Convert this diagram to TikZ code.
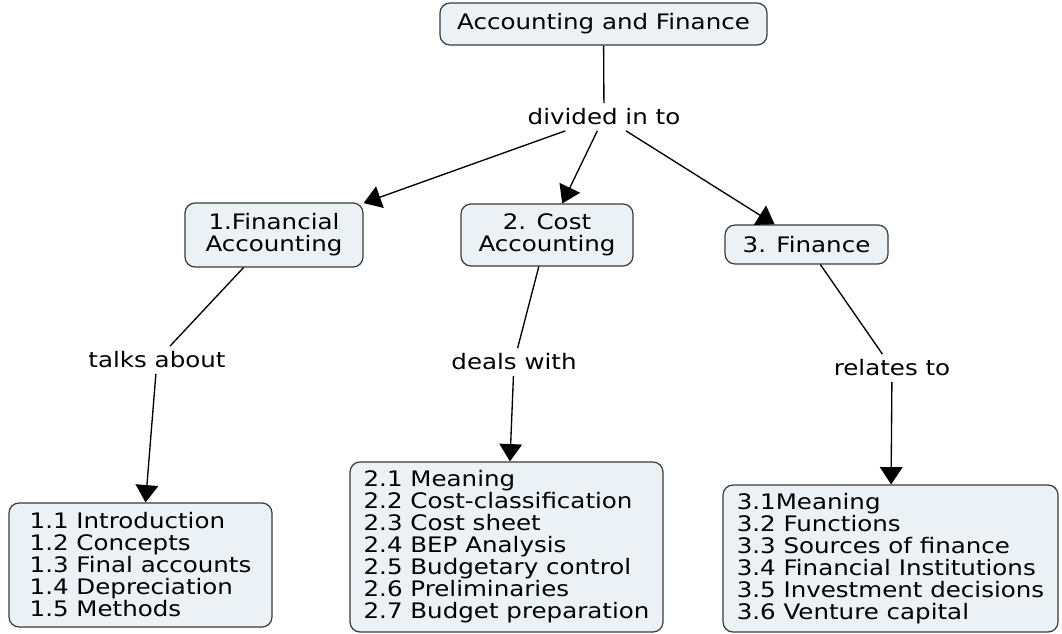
\documentclass[tikz,border=0pt]{standalone}
\usepackage{fontspec}
\setmainfont[FakeStretch=1.15]{DejaVu Sans}
\usetikzlibrary{arrows.meta}
\definecolor{boxfill}{HTML}{EBF1F4}
\definecolor{boxline}{HTML}{3A3A3A}

\begin{document}
\begin{tikzpicture}[x=0.75pt,y=-0.75pt,
    font=\fontsize{16}{16.5}\selectfont,
    box/.style={draw=boxline,fill=boxfill,rounded corners=7.5pt,line width=0.9pt,align=center,inner sep=0pt},
    lst/.style={box,align=left},
    link/.style={inner sep=4pt},
    con/.style={line width=1pt},
    arr/.style={con,-{Triangle[width=17pt,length=13pt]}}]
        \useasboundingbox (0,0) rectangle (1062,634);
        % concepts
        \node[box,minimum width=245.25pt,minimum height=31.5pt] (acc) at (603.5,24) {Accounting and Finance};
        \node[box,minimum width=133.5pt,minimum height=48pt] (fin) at (274,235) {1.Financial\\Accounting};
        \node[box,minimum width=129pt,minimum height=46.5pt] (cost) at (547,235) {2. Cost\\Accounting};
        \node[box,minimum width=122.25pt,minimum height=29.25pt] (finance) at (806.5,244.5) {3. Finance};
        \node[lst,minimum width=197.25pt,minimum height=93pt] (fintopics) at (140.5,565) {1.1 Introduction\\1.2 Concepts\\1.3 Final accounts\\1.4 Depreciation\\1.5 Methods};
        \node[lst,minimum width=234.75pt,minimum height=127.5pt] (costtopics) at (506.5,547) {2.1 Meaning\\2.2 Cost-classification\\2.3 Cost sheet\\2.4 BEP Analysis\\2.5 Budgetary control\\2.6 Preliminaries\\2.7 Budget preparation};
        \node[lst,minimum width=251.25pt,minimum height=110.25pt] (financetopics) at (890.5,558.5) {3.1Meaning\\3.2 Functions\\3.3 Sources of finance\\3.4 Financial Institutions\\3.5 Investment decisions\\3.6 Venture capital};
        % linking phrases
        \node[link] (divided) at (604,117) {divided in to};
        \node[link] (talks) at (157,360) {talks about};
        \node[link] (deals) at (514,362) {deals with};
        \node[link] (relates) at (892,368) {relates to};
        % connections
        \draw[con] (acc) -- (divided);
        \draw[arr] (divided) -- (fin);
        \draw[arr] (divided) -- (cost);
        \draw[arr] (divided) -- (finance);
        \draw[con] (fin) -- (talks);
        \draw[arr] (talks) -- (fintopics);
        \draw[con] (cost) -- (deals);
        \draw[arr] (deals) -- (costtopics);
        \draw[con] (finance) -- (relates);
        \draw[arr] (relates) -- (financetopics);
    \end{tikzpicture}
\end{document}
